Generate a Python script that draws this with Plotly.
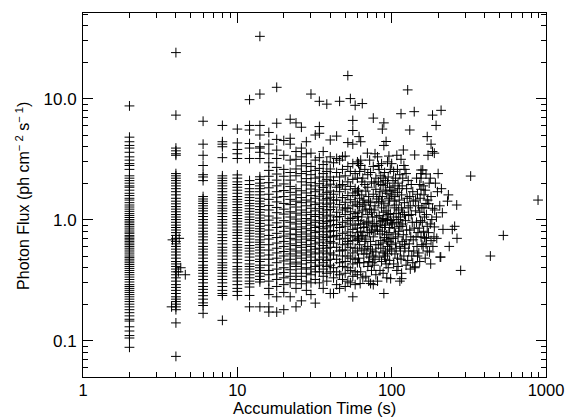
import plotly.graph_objects as go

# ---------------- data ----------------
# Photon flux values grouped by (discrete) accumulation time in seconds
flux_t002 = [8.7, 4.8, 4.4, 4.1, 3.9, 3.6, 3.3, 3.1, 2.9, 2.8, 2.6, 2.3, 2.2, 2.1, 2.0, 1.9,
             1.85, 1.75, 1.65, 1.58, 1.5, 1.45, 1.38, 1.32, 1.27, 1.22, 1.17, 1.12, 1.08, 1.04,
             1.0, 0.97, 0.94, 0.91, 0.88, 0.85, 0.82, 0.79, 0.77, 0.74, 0.72, 0.70, 0.68, 0.66,
             0.64, 0.62, 0.60, 0.58, 0.56, 0.54, 0.52, 0.50, 0.485, 0.47, 0.455, 0.44, 0.425,
             0.41, 0.395, 0.38, 0.365, 0.35, 0.335, 0.32, 0.305, 0.29, 0.28, 0.27, 0.26, 0.25,
             0.24, 0.23, 0.22, 0.21, 0.20, 0.19, 0.18, 0.17, 0.16, 0.15, 0.145, 0.13, 0.12,
             0.11, 0.105, 0.088]
flux_t004 = [24.0, 7.3, 3.9, 3.7, 3.5, 3.4, 2.4, 2.3, 2.2, 2.1, 2.0, 1.9, 1.8, 1.7, 1.6, 1.5,
             1.42, 1.35, 1.28, 1.22, 1.16, 1.1, 1.05, 1.0, 0.95, 0.9, 0.86, 0.82, 0.78, 0.74,
             0.7, 0.66, 0.63, 0.6, 0.57, 0.54, 0.51, 0.48, 0.45, 0.43, 0.41, 0.39, 0.37, 0.35,
             0.33, 0.31, 0.29, 0.275, 0.26, 0.245, 0.23, 0.22, 0.21, 0.2, 0.19, 0.18, 0.14, 0.074]
flux_t006 = [6.5, 4.2, 3.4, 2.8, 2.35, 2.25, 2.1, 1.55, 1.48, 1.42, 1.36, 1.3, 1.24, 1.18,
             1.12, 1.06, 1.0, 0.95, 0.9, 0.85, 0.8, 0.76, 0.72, 0.68, 0.64, 0.6, 0.57, 0.54,
             0.51, 0.48, 0.45, 0.42, 0.4, 0.38, 0.36, 0.34, 0.32, 0.3, 0.28, 0.265, 0.25, 0.235,
             0.22, 0.205, 0.195, 0.168]
flux_t008 = [6.0, 4.4, 4.2, 4.0, 3.25, 2.3, 2.2, 2.1, 2.0, 1.9, 1.8, 1.7, 1.6, 1.52, 1.45,
             1.38, 1.3, 1.24, 1.18, 1.12, 1.06, 1.0, 0.95, 0.9, 0.85, 0.8, 0.75, 0.71, 0.67,
             0.63, 0.59, 0.56, 0.53, 0.5, 0.47, 0.44, 0.42, 0.4, 0.38, 0.36, 0.34, 0.32, 0.3,
             0.28, 0.26, 0.245, 0.236, 0.147]
flux_t010 = [5.6, 4.3, 3.8, 3.5, 3.2, 2.34, 2.2, 2.05, 1.95, 1.85, 1.75, 1.65, 1.55, 1.47,
             1.4, 1.33, 1.26, 1.2, 1.14, 1.08, 1.02, 0.97, 0.92, 0.87, 0.82, 0.78, 0.74, 0.7,
             0.66, 0.62, 0.59, 0.56, 0.53, 0.5, 0.47, 0.44, 0.41, 0.39, 0.37, 0.35, 0.33, 0.31,
             0.29, 0.27, 0.255, 0.236]
flux_t012 = [9.8, 6.0, 5.5, 4.25, 3.9, 3.2, 2.1, 1.95, 1.8, 1.7, 1.6, 1.52, 1.44, 1.36, 1.3,
             1.23, 1.17, 1.11, 1.05, 1.0, 0.95, 0.9, 0.85, 0.81, 0.77, 0.73, 0.69, 0.65, 0.61,
             0.58, 0.55, 0.52, 0.49, 0.46, 0.43, 0.41, 0.39, 0.37, 0.35, 0.33, 0.31, 0.295,
             0.277, 0.236, 0.19]
flux_t014 = [32.7, 10.9, 6.0, 5.0, 4.0, 3.9, 3.6, 3.2, 2.26, 2.15, 2.0, 1.9, 1.8, 1.7, 1.6,
             1.5, 1.42, 1.35, 1.28, 1.21, 1.15, 1.09, 1.03, 0.98, 0.93, 0.88, 0.84, 0.8, 0.76,
             0.72, 0.68, 0.65, 0.62, 0.59, 0.56, 0.53, 0.5, 0.47, 0.45, 0.42, 0.4, 0.38, 0.36,
             0.34, 0.32, 0.305, 0.19]
flux_t016 = [5.25, 4.2, 3.5, 2.95, 2.55, 2.28, 2.02, 1.83, 1.62, 1.47, 1.31, 1.2, 1.07, 0.99,
             0.9, 0.82, 0.74, 0.69, 0.62, 0.56, 0.51, 0.47, 0.42, 0.38, 0.35, 0.31, 0.27, 0.24,
             0.19, 0.172]
flux_t018 = [12.4, 6.26, 4.6, 3.75, 3.2, 2.7, 2.38, 2.12, 1.9, 1.7, 1.53, 1.4, 1.26, 1.14,
             1.03, 0.94, 0.86, 0.77, 0.71, 0.64, 0.58, 0.53, 0.48, 0.44, 0.39, 0.355, 0.32,
             0.28, 0.23, 0.172]
flux_t020 = [4.5, 3.4, 2.6, 2.28, 1.97, 1.74, 1.55, 1.36, 1.22, 1.11, 0.98, 0.88, 0.8, 0.73,
             0.66, 0.6, 0.545, 0.5, 0.455, 0.4, 0.365, 0.33, 0.29, 0.25, 0.18]
flux_t022 = [6.75, 4.7, 4.2, 3.1, 2.45, 2.12, 1.88, 1.68, 1.47, 1.33, 1.16, 1.05, 0.95, 0.85,
             0.76, 0.7, 0.63, 0.57, 0.52, 0.47, 0.43, 0.385, 0.34, 0.3, 0.23]
flux_t024 = [6.3, 3.65, 3.15, 2.62, 2.3, 1.8, 1.6, 1.42, 1.27, 1.13, 1.01, 0.92, 0.83, 0.75,
             0.68, 0.61, 0.55, 0.5, 0.445, 0.41, 0.36, 0.32, 0.27, 0.19]
flux_t026 = [5.8, 3.9, 3.3, 2.78, 2.4, 2.05, 1.73, 1.52, 1.38, 1.2, 1.09, 0.97, 0.87, 0.79,
             0.72, 0.65, 0.59, 0.53, 0.48, 0.43, 0.39, 0.34, 0.295, 0.213]
flux_t028 = [4.4, 3.5, 2.9, 2.5, 2.18, 1.93, 1.66, 1.45, 1.3, 1.15, 1.02, 0.93, 0.84, 0.76,
             0.69, 0.62, 0.56, 0.51, 0.46, 0.4, 0.36, 0.31, 0.26]
flux_t030 = [10.9, 3.54, 2.75, 2.35, 2.02, 1.79, 1.58, 1.4, 1.24, 1.1, 0.99, 0.9, 0.81, 0.73,
             0.67, 0.6, 0.54, 0.49, 0.44, 0.39, 0.35, 0.3, 0.24]
flux_t032 = [5.0, 3.1, 2.55, 2.2, 1.9, 1.7, 1.5, 1.33, 1.18, 1.06, 0.95, 0.86, 0.78, 0.7,
             0.63, 0.57, 0.52, 0.46, 0.41, 0.37, 0.32, 0.204]
flux_t034 = [9.5, 5.87, 5.17, 3.25, 2.65, 2.25, 1.98, 1.76, 1.56, 1.37, 1.23, 1.1, 0.98, 0.88,
             0.8, 0.72, 0.65, 0.58, 0.53, 0.47, 0.42, 0.37, 0.3]
flux_t036 = [3.65, 2.85, 2.4, 2.08, 1.84, 1.62, 1.45, 1.28, 1.15, 1.03, 0.93, 0.84, 0.75,
             0.68, 0.61, 0.55, 0.49, 0.44, 0.39, 0.34, 0.27]
flux_t038 = [9.0, 3.0, 2.5, 2.15, 1.9, 1.68, 1.49, 1.34, 1.2, 1.07, 0.96, 0.87, 0.79, 0.71,
             0.64, 0.58, 0.52, 0.46, 0.41, 0.36, 0.31]
flux_t040 = [4.55, 3.3, 2.62, 2.25, 1.96, 1.72, 1.53, 1.37, 1.21, 1.09, 0.98, 0.89, 0.8, 0.73,
             0.66, 0.59, 0.53, 0.47, 0.42, 0.37, 0.245]
flux_t042 = [2.95, 2.1, 1.62, 1.45, 1.27, 0.99, 0.81, 0.72, 0.64, 0.51, 0.40, 0.33, 0.245]
flux_t044 = [4.9, 3.2, 2.45, 1.85, 1.45, 1.15, 1.05, 0.91, 0.74, 0.59, 0.47, 0.37, 0.29]
flux_t046 = [9.5, 3.1, 2.25, 1.9, 1.70, 1.33, 1.06, 0.86, 0.69, 0.55, 0.44, 0.35, 0.27]
flux_t048 = [3.31, 2.6, 1.95, 1.52, 1.2, 0.95, 0.77, 0.62, 0.56, 0.50, 0.41, 0.32]
flux_t050 = [3.35, 2.3, 1.78, 1.39, 1.25, 1.10, 0.88, 0.70, 0.56, 0.45, 0.36, 0.28]
flux_t052 = [15.5, 4.33, 2.75, 2.05, 1.58, 1.24, 0.98, 0.79, 0.66, 0.63, 0.50, 0.40, 0.31]
flux_t054 = [10.0, 2.5, 1.88, 1.46, 1.16, 1.02, 0.92, 0.74, 0.59, 0.48, 0.38, 0.30]
flux_t056 = [6.6, 5.45, 4.2, 2.9, 2.15, 1.66, 1.3, 1.03, 0.83, 0.67, 0.53, 0.43, 0.34, 0.23]
flux_t058 = [8.8, 2.4, 1.8, 1.58, 1.4, 1.12, 0.9, 0.72, 0.58, 0.47, 0.37, 0.29]
flux_t060 = [3.0, 2.2, 1.7, 1.34, 1.06, 0.85, 0.78, 0.68, 0.55, 0.44, 0.35]

time_columns = [2, 4, 6, 8, 10, 12, 14, 16, 18, 20, 22, 24, 26, 28, 30, 32, 34, 36, 38, 40,
                42, 44, 46, 48, 50, 52, 54, 56, 58, 60]
flux_columns = [flux_t002, flux_t004, flux_t006, flux_t008, flux_t010, flux_t012, flux_t014,
                flux_t016, flux_t018, flux_t020, flux_t022, flux_t024, flux_t026, flux_t028,
                flux_t030, flux_t032, flux_t034, flux_t036, flux_t038, flux_t040, flux_t042,
                flux_t044, flux_t046, flux_t048, flux_t050, flux_t052, flux_t054, flux_t056,
                flux_t058, flux_t060]

# (time, flux) pairs off the regular columns
offset_points = [(3.8, 0.68), (4.2, 0.70), (4.3, 0.40), (4.6, 0.35), (3.75, 0.19), (4.15, 0.37)]
cloud_60_80 = [(61.5, 4.85), (63, 4.4), (64.5, 9.1), (62.5, 0.296), (69.6, 3.54), (72, 3.1),
               (63, 3.1), (63, 2.8), (76, 2.75), (76, 6.9), (78, 3.5), (73, 0.296), (62, 2.5),
               (65, 2.2), (67, 1.95), (70, 2.35), (74, 2.05), (79, 2.2), (61, 1.75), (64, 1.6),
               (66, 1.45), (68, 1.72), (71, 1.55), (73, 1.38), (76, 1.62), (80, 1.48), (62, 1.28),
               (65, 1.18), (67, 1.32), (70, 1.1), (72, 1.22), (75, 1.05), (78, 1.3), (61, 0.98),
               (64, 1.05), (66, 0.92), (69, 0.87), (71, 0.97), (74, 0.82), (77, 0.93), (80, 0.88),
               (63, 0.8), (65, 0.74), (68, 0.69), (70, 0.78), (73, 0.66), (76, 0.72), (79, 0.62),
               (62, 0.62), (64, 0.56), (67, 0.58), (69, 0.52), (72, 0.49), (75, 0.55), (78, 0.47),
               (61, 0.48), (66, 0.44), (70, 0.41), (74, 0.38), (77, 0.42), (63, 0.37), (68, 0.34),
               (71, 0.31), (79, 0.35), (65, 0.33), (60.5, 1.15), (76, 0.29),
               (61, 2.9), (64, 2.05), (67, 2.6), (70, 1.85), (73, 2.45), (77, 2.0), (79, 1.78),
               (62, 1.5), (65, 1.38), (68, 1.22), (71, 1.42), (74, 1.15), (77, 1.2), (80, 1.05),
               (63, 0.92), (66, 0.86), (69, 0.95), (72, 0.78), (75, 0.9), (78, 0.8), (61, 0.7),
               (64, 0.72), (67, 0.66), (70, 0.6), (73, 0.57), (76, 0.5), (79, 0.54), (62, 0.44),
               (66, 0.52), (71, 0.45), (75, 0.44)]
cloud_80_100 = [(81, 3.3), (87, 5.6), (89, 6.3), (92, 4.42), (89, 4.1), (96, 3.35), (94, 3.0),
                (100, 2.9), (83, 2.6), (86, 2.9), (90, 2.45), (95, 2.25), (98, 2.6), (82, 2.05),
                (85, 2.3), (88, 1.92), (91, 2.1), (97, 1.85), (84, 1.7), (87, 1.55), (93, 1.65),
                (96, 1.5), (99, 1.72), (82, 1.4), (86, 1.25), (89, 1.35), (92, 1.18), (95, 1.3),
                (98, 1.12), (83, 1.08), (85, 0.96), (88, 1.02), (91, 0.9), (94, 0.99), (97, 0.86),
                (100, 0.94), (81, 0.82), (84, 0.76), (87, 0.8), (90, 0.71), (93, 0.75), (96, 0.66),
                (99, 0.7), (82, 0.62), (85, 0.58), (88, 0.64), (91, 0.55), (94, 0.52), (97, 0.57),
                (83, 0.49), (86, 0.45), (89, 0.245), (92, 0.43), (95, 0.4), (98.5, 0.325),
                (84, 0.38), (88, 0.36), (93, 0.33), (81, 0.31), (90, 0.5),
                (82, 2.8), (85, 1.95), (88, 2.2), (91, 1.75), (94, 2.0), (97, 1.45), (100, 1.6),
                (83, 1.55), (86, 1.4), (89, 1.15), (92, 1.0), (95, 1.1), (98, 0.98), (84, 0.9),
                (87, 0.98), (90, 0.86), (93, 0.68), (96, 0.78), (99, 0.62), (85, 0.67), (88, 0.53),
                (91, 0.47), (94, 0.6), (97, 0.46), (100, 0.55)]
cloud_100_150 = [(127, 11.8), (115, 7.5), (140, 7.8), (131, 5.5), (119, 3.76), (141, 3.42),
                 (108, 3.4), (115, 3.15), (120, 2.8), (122, 2.6), (124, 2.4), (103, 2.5),
                 (106, 2.2), (110, 2.0), (113, 2.35), (117, 1.9), (128, 2.1), (134, 1.95),
                 (145, 2.2), (102, 1.75), (105, 1.55), (109, 1.68), (112, 1.45), (116, 1.6),
                 (121, 1.38), (126, 1.5), (132, 1.3), (138, 1.42), (147, 1.62), (104, 1.25),
                 (107, 1.12), (111, 1.2), (114, 1.05), (118, 1.15), (123, 0.98), (129, 1.08),
                 (136, 0.95), (143, 1.18), (101, 0.92), (104, 0.85), (108, 0.95), (111, 0.8),
                 (115, 0.88), (119, 0.75), (125, 0.82), (133, 0.72), (140, 0.85), (148, 0.78),
                 (102, 0.7), (106, 0.64), (110, 0.72), (113, 0.6), (117, 0.66), (122, 0.58),
                 (130, 0.63), (139, 0.55), (146, 0.6), (105, 0.52), (109, 0.48), (114, 0.55),
                 (120, 0.5), (127, 0.46), (135, 0.5), (110, 0.41), (116, 0.36), (113, 0.31),
                 (141, 0.40), (103, 0.43), (108, 0.38), (124, 0.42), (116, 0.325), (142, 0.407),
                 (132, 0.39),
                 (102, 2.1), (105, 1.9), (109, 2.6), (112, 1.8), (118, 2.2), (125, 1.8),
                 (131, 1.55), (137, 1.7), (143, 1.45), (149, 1.3), (104, 1.42), (107, 1.32),
                 (111, 1.0), (116, 1.25), (121, 1.1), (128, 1.25), (134, 1.1), (145, 0.95),
                 (103, 1.05), (106, 0.76), (112, 0.88), (118, 0.92), (124, 0.68), (131, 0.82),
                 (138, 0.68), (144, 0.72), (107, 0.58), (115, 0.47), (121, 0.62), (129, 0.55),
                 (137, 0.44), (147, 0.5)]
cloud_150_240 = [(155, 2.57), (155, 2.4), (159, 2.57), (167, 2.38), (155, 2.2), (189, 3.54),
                 (172, 3.4), (170, 4.85), (180, 4.2), (184, 3.65), (184, 7.3), (209, 8.0),
                 (194, 6.0), (155, 1.78), (180, 1.55), (171, 1.45), (167, 1.36), (184, 1.24),
                 (213, 1.14), (233, 1.60), (230, 1.42), (163, 1.05), (163, 0.71), (180, 0.67),
                 (176, 0.54), (150, 0.53), (167, 0.63), (155, 0.72), (189, 0.87), (215, 0.83),
                 (236, 0.60), (208, 0.49), (206, 0.49), (179, 0.43), (160, 1.9), (175, 2.0),
                 (198, 1.7), (152, 1.15), (158, 0.95), (170, 0.88), (195, 1.05), (205, 1.3),
                 (160, 0.6), (173, 0.78), (152, 0.45), (200, 2.4), (162, 1.25), (188, 0.72),
                 (151, 0.85), (165, 0.48),
                 (153, 1.5), (157, 1.25), (162, 1.6), (168, 1.1), (174, 1.35), (182, 1.0),
                 (190, 1.2), (154, 0.98), (161, 0.8), (168, 0.7), (178, 0.92), (185, 0.6),
                 (196, 0.7), (157, 0.62), (170, 0.55), (152, 1.95), (165, 1.75), (178, 2.2),
                 (192, 2.0), (210, 1.8)]
cloud_sparse = [(325, 2.29), (888, 1.45), (529, 0.74), (436, 0.50), (280, 0.38), (265, 0.70),
                (264, 1.32), (256, 0.88), (247, 0.83)]

x_tick_vals = [1, 10, 100, 1000]
x_tick_text = ["1", "10", "100", "1000"]
y_tick_vals = [0.1, 1.0, 10.0]
y_tick_text = ["0.1", "1.0", "10.0"]
x_minor = [m * d for d in (1, 10, 100) for m in range(2, 10)]
y_minor = [0.06, 0.07, 0.08, 0.09] + [m * d for d in (0.1, 1) for m in range(2, 10)] + [20, 30, 40, 50]

# ---------------- assemble ----------------
acc_time, photon_flux = [], []
for t, vals in zip(time_columns, flux_columns):
    acc_time += [t] * len(vals)
    photon_flux += vals
for group in (offset_points, cloud_60_80, cloud_80_100, cloud_100_150, cloud_150_240, cloud_sparse):
    for t, f in group:
        acc_time.append(t)
        photon_flux.append(f)

FONT = "Liberation Sans, Arial, Helvetica, sans-serif"

fig = go.Figure(go.Scatter(
    x=acc_time, y=photon_flux, mode="markers",
    marker=dict(symbol="cross-thin", size=7, color="black",
                line=dict(width=1, color="black")),
    hoverinfo="skip",
))

axis_common = dict(
    type="log", showgrid=False, zeroline=False, showline=True, linecolor="black",
    linewidth=1, mirror="ticks", ticks="inside", ticklen=10, tickwidth=1,
    tickcolor="black", tickfont=dict(family=FONT, size=17, color="black"),
)

fig.update_layout(
    width=576, height=417,
    margin=dict(l=83, r=22, t=13, b=40),
    paper_bgcolor="white", plot_bgcolor="white",
    showlegend=False,
    xaxis=dict(axis_common, range=[0, 3], tickmode="array", tickvals=x_tick_vals,
               ticktext=x_tick_text, ticklabelstandoff=-2,
               tickfont=dict(family=FONT, size=16.5, color="black"),
               minor=dict(tickmode="array", tickvals=x_minor, ticks="inside", ticklen=5,
                          tickwidth=1, tickcolor="black", showgrid=False)),
    yaxis=dict(axis_common, range=[-1.30103, 1.7075], tickmode="array", tickvals=y_tick_vals,
               ticktext=y_tick_text, ticklabelstandoff=2,
               minor=dict(tickmode="array", tickvals=y_minor, ticks="inside", ticklen=5,
                          tickwidth=1, tickcolor="black", showgrid=False)),
    annotations=[
        dict(text="Accumulation Time (s)", xref="paper", yref="paper", x=0.5, y=-0.085,
             xanchor="center", yanchor="middle", showarrow=False,
             font=dict(family=FONT, size=16.5, color="black")),
        dict(text="Photon Flux (ph cm<sup>\u2212 2</sup> s<sup>\u2212 1</sup>)",
             xref="paper", yref="paper", x=-0.13, y=0.497, textangle=-90,
             xanchor="center", yanchor="middle", showarrow=False,
             font=dict(family=FONT, size=16, color="black")),
    ],
)

fig.write_html("out.html", config={"displayModeBar": False},
               post_script="document.body.style.margin='0';")
